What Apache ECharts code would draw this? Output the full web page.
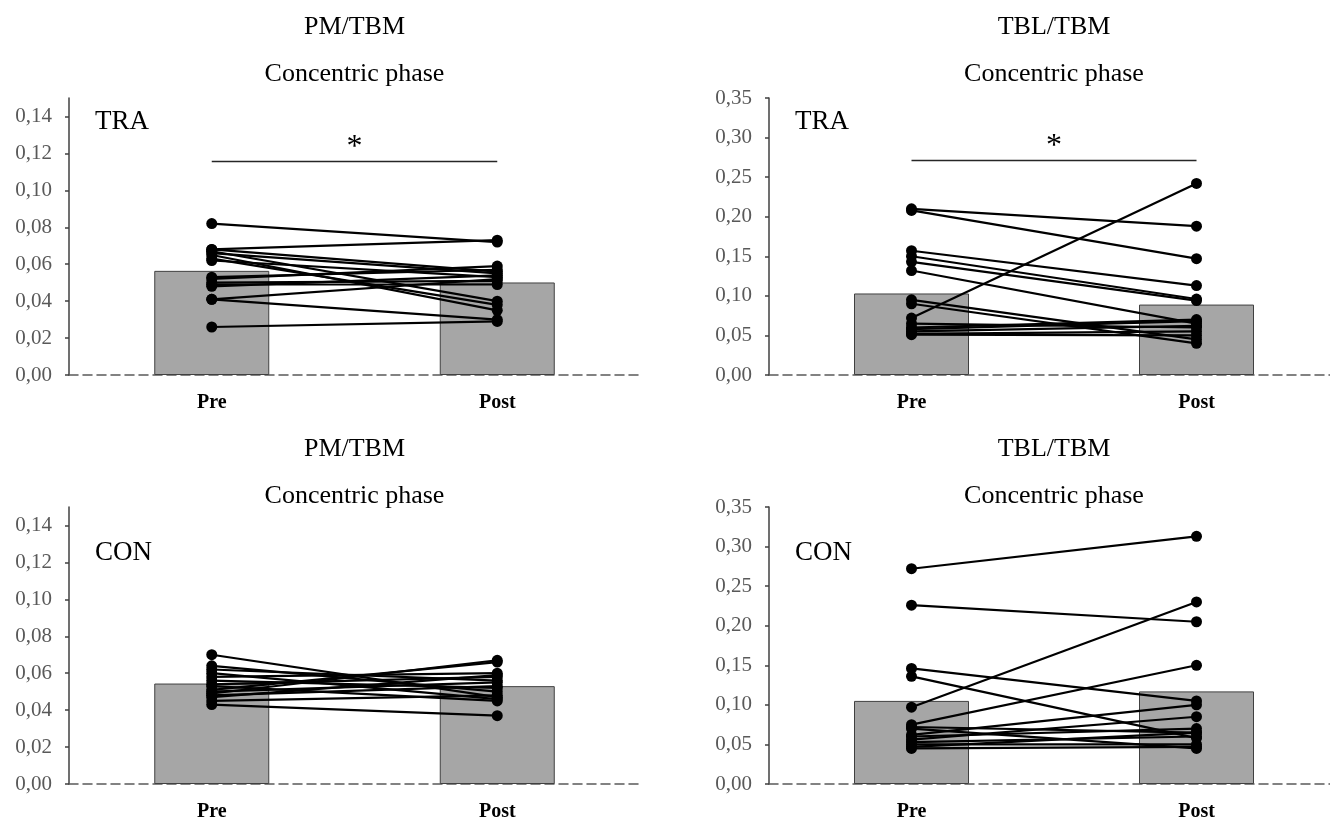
<!DOCTYPE html>
<html>
<head>
<meta charset="utf-8">
<script src="https://cdn.jsdelivr.net/npm/echarts@6/dist/echarts.min.js"></script>
<style>
  html, body { margin: 0; padding: 0; background: #fff; }
  #main { width: 1330px; height: 821px; }
</style>
</head>
<body>
<div id="main"></div>
<script>
// data
var categories = ['Pre', 'Post'];

var pmTicks = [0, 0.02, 0.04, 0.06, 0.08, 0.10, 0.12, 0.14];
var tblTicks = [0, 0.05, 0.10, 0.15, 0.20, 0.25, 0.30, 0.35];

// PM/TBM, TRA
var pmTraBar = [0.0564, 0.0501];
var pmTraPre  = [0.082, 0.068, 0.068, 0.067, 0.066, 0.065, 0.063, 0.062, 0.053, 0.052, 0.050, 0.049, 0.048, 0.041, 0.041, 0.026];
var pmTraPost = [0.072, 0.073, 0.056, 0.040, 0.055, 0.035, 0.038, 0.053, 0.057, 0.059, 0.051, 0.049, 0.054, 0.052, 0.030, 0.029];
var pmTraSig = 0.1155;

// TBL/TBM, TRA
var tblTraBar = [0.103, 0.089];
var tblTraPre  = [0.210, 0.208, 0.157, 0.150, 0.143, 0.132, 0.095, 0.090, 0.072, 0.065, 0.060, 0.058, 0.055, 0.052, 0.051];
var tblTraPost = [0.188, 0.147, 0.113, 0.096, 0.094, 0.065, 0.045, 0.040, 0.242, 0.060, 0.070, 0.068, 0.062, 0.055, 0.050];
var tblTraSig = 0.271;

// PM/TBM, CON
var pmConBar = [0.0544, 0.0530];
var pmConPre  = [0.070, 0.064, 0.062, 0.060, 0.058, 0.056, 0.054, 0.053, 0.051, 0.050, 0.049, 0.048, 0.047, 0.045, 0.043];
var pmConPost = [0.047, 0.050, 0.056, 0.046, 0.060, 0.052, 0.058, 0.045, 0.066, 0.055, 0.067, 0.053, 0.059, 0.048, 0.037];

// TBL/TBM, CON
var tblConBar = [0.105, 0.117];
var tblConPre  = [0.272, 0.226, 0.146, 0.136, 0.097, 0.075, 0.072, 0.070, 0.062, 0.060, 0.056, 0.053, 0.050, 0.047, 0.045];
var tblConPost = [0.313, 0.205, 0.105, 0.058, 0.230, 0.150, 0.065, 0.045, 0.100, 0.070, 0.085, 0.060, 0.050, 0.065, 0.047];

var FONT = '"Liberation Serif", "Times New Roman", serif';

var myChart = echarts.init(document.getElementById('main'));

var panels = [
    { title: 'PM/TBM', group: 'TRA', bar: pmTraBar, pre: pmTraPre, post: pmTraPost, sig: pmTraSig,
      max: 0.15, ticks: pmTicks, left: 69, top: 98, width: 571, titleTop: 14, groupTop: 108 },
    { title: 'TBL/TBM', group: 'TRA', bar: tblTraBar, pre: tblTraPre, post: tblTraPost, sig: tblTraSig,
      max: 0.35, ticks: tblTicks, left: 769, top: 98, width: 570, titleTop: 14, groupTop: 108 },
    { title: 'PM/TBM', group: 'CON', bar: pmConBar, pre: pmConPre, post: pmConPost, sig: null,
      max: 0.15, ticks: pmTicks, left: 69, top: 507, width: 571, titleTop: 436, groupTop: 539 },
    { title: 'TBL/TBM', group: 'CON', bar: tblConBar, pre: tblConPre, post: tblConPost, sig: null,
      max: 0.35, ticks: tblTicks, left: 769, top: 507, width: 570, titleTop: 436, groupTop: 539 }
];

var grids = [], xAxes = [], yAxes = [], series = [], titles = [], graphics = [];

for (var i = 0; i < panels.length; i++) {
    var p = panels[i];
    grids.push({ left: p.left, top: p.top, width: p.width, height: 277,
                 containLabel: false, outerBoundsMode: 'none' });

    xAxes.push({
        type: 'category',
        gridIndex: i,
        data: categories,
        axisTick: { show: false },
        axisLine: { lineStyle: { color: '#595959', width: 1.5, type: [9, 5] } },
        axisLabel: { color: '#000', fontFamily: FONT, fontSize: 20, fontWeight: 'bold', margin: 18 }
    });

    yAxes.push({
        type: 'value',
        gridIndex: i,
        min: 0,
        max: p.max,
        splitLine: { show: false },
        axisLine: { show: true, lineStyle: { color: '#404040', width: 1.5 } },
        axisTick: { show: true, length: 4, customValues: p.ticks, lineStyle: { color: '#404040', width: 1.5 } },
        axisLabel: {
            customValues: p.ticks,
            color: '#595959', fontFamily: FONT, fontSize: 21, margin: 17,
            formatter: function (v) { return v.toFixed(2).replace('.', ','); }
        }
    });

    var barSeries = {
        type: 'bar',
        xAxisIndex: i,
        yAxisIndex: i,
        barWidth: 115,
        data: p.bar,
        itemStyle: { color: '#a6a6a6', borderColor: '#404040', borderWidth: 1 },
        z: 1
    };
    if (p.sig !== null) {
        barSeries.markLine = {
            silent: true,
            symbol: 'none',
            lineStyle: { color: '#262626', width: 1.3, type: 'solid' },
            label: { show: true, position: 'middle', formatter: '*', color: '#000',
                     fontFamily: FONT, fontSize: 32, distance: -2 },
            data: [[{ coord: [0, p.sig] }, { coord: [1, p.sig] }]]
        };
    }
    series.push(barSeries);

    for (var j = 0; j < p.pre.length; j++) {
        series.push({
            type: 'line',
            xAxisIndex: i,
            yAxisIndex: i,
            data: [p.pre[j], p.post[j]],
            symbol: 'circle',
            symbolSize: 11,
            itemStyle: { color: '#000' },
            lineStyle: { color: '#000', width: 2.2 },
            emphasis: { disabled: true },
            z: 3
        });
    }

    titles.push({
        text: p.title,
        subtext: 'Concentric phase',
        left: p.left + p.width / 2,
        top: p.titleTop,
        textAlign: 'center',
        padding: 0,
        itemGap: 21,
        textStyle: { color: '#000', fontFamily: FONT, fontSize: 26, fontWeight: 'normal', lineHeight: 26 },
        subtextStyle: { color: '#000', fontFamily: FONT, fontSize: 26, lineHeight: 26 }
    });

    graphics.push({
        type: 'text',
        left: p.left + 26,
        top: p.groupTop,
        style: { text: p.group, fill: '#000', font: '27px ' + FONT }
    });
}

var option = {
    animation: false,
    backgroundColor: '#fff',
    title: titles,
    grid: grids,
    xAxis: xAxes,
    yAxis: yAxes,
    series: series,
    graphic: graphics
};
myChart.setOption(option);
</script>
</body>
</html>
